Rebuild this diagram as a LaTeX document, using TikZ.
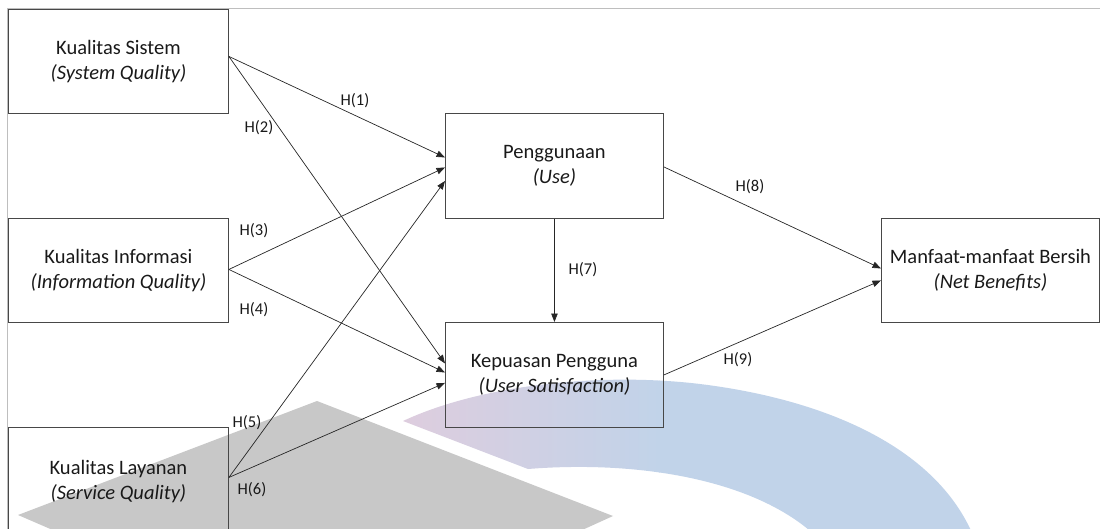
\documentclass[tikz,border=0pt]{standalone}
\usepackage{fontspec}
\setmainfont{Carlito}
\usetikzlibrary{arrows.meta,calc}
\definecolor{wmgray}{RGB}{200,200,200}
\definecolor{wmpink}{RGB}{222,205,222}
\definecolor{wmblue}{RGB}{193,211,233}
\definecolor{framegray}{RGB}{190,190,190}
\begin{document}
\begin{tikzpicture}[x=1pt,y=-1pt,
  box/.style={draw=black!72, line width=0.9pt, minimum width=220pt, minimum height=104pt, inner sep=0pt, align=center, anchor=north west, font=\fontsize{20.5}{25}\selectfont, text=black!90},
  hlab/.style={font=\fontsize{16.5}{18}\selectfont, text=black!90, inner sep=0pt},
  conn/.style={draw=black!85, line width=0.7pt, -{Triangle[length=8.5pt,width=6.5pt]}}]
\useasboundingbox (0,0) rectangle (1100,529);
\clip (0,0) rectangle (1100,529);
% frame
\draw[framegray, line width=0.8pt] (7,529) -- (7,8) -- (1100,8);
% watermark
\fill[wmgray] (18,515) -- (317,401) -- (613,516) -- (580,531) -- (55,531) -- cycle;
\begin{scope}
\clip (403,421) .. controls (480,385) and (600,372) .. (700,384) .. controls (830,400) and (940,450) .. (975,540) -- (820,540) .. controls (760,480) and (640,460) .. (528,469) -- cycle;
\shade[left color=wmpink, right color=wmblue] (400,370) rectangle (660,540);
\fill[wmblue] (659,370) rectangle (1000,540);
\end{scope}
% boxes
\node[box] (sys) at (8,9) {Kualitas Sistem\\\textit{(System Quality)}};
\node[box] (info) at (8,218) {Kualitas Informasi\\\textit{(Information Quality)}};
\node[box, minimum height=108pt] (serv) at (8,427) {Kualitas Layanan\\\textit{(Service Quality)}};
\node[box, minimum width=218pt, minimum height=105pt] (use) at (445,113) {Penggunaan\\\textit{(Use)}};
\node[box, minimum width=218pt, minimum height=105pt] (sat) at (445,322) {Kepuasan Pengguna\\\textit{(User Satisfaction)}};
\node[box, minimum width=218pt] (net) at (881,218) {Manfaat-manfaat Bersih\\\textit{(Net Benefits)}};
% connectors
\draw[conn] ($(sys.east)+(0,-5)$) -- ($(use.west)+(0,-8.5)$);
\draw[conn] ($(sys.east)+(0,-5)$) -- ($(sat.west)+(0,-11.5)$);
\draw[conn] ($(info.east)+(0,-1)$) -- ($(use.west)+(0,1.5)$);
\draw[conn] ($(info.east)+(0,-1)$) -- ($(sat.west)+(0,-2.5)$);
\draw[conn] ($(serv.east)+(0,-4)$) -- ($(use.west)+(0,15)$);
\draw[conn] ($(serv.east)+(0,-4)$) -- ($(sat.west)+(0,8)$);
\draw[conn] (use.south) -- (sat.north);
\draw[conn] ($(use.east)+(0,1)$) -- ($(net.west)+(0,-2)$);
\draw[conn] (sat.east) -- ($(net.west)+(0,10)$);
% labels
\node[hlab] (h1) at (355,101) {H(1)};
\node[hlab] (h2) at (259,128) {H(2)};
\node[hlab] (h3) at (254,231) {H(3)};
\node[hlab] (h4) at (254,310) {H(4)};
\node[hlab] (h5) at (247,423) {H(5)};
\node[hlab] (h6) at (252,490) {H(6)};
\node[hlab] (h7) at (583,270) {H(7)};
\node[hlab] (h8) at (750,187) {H(8)};
\node[hlab] (h9) at (738,360) {H(9)};
\end{tikzpicture}
\end{document}
